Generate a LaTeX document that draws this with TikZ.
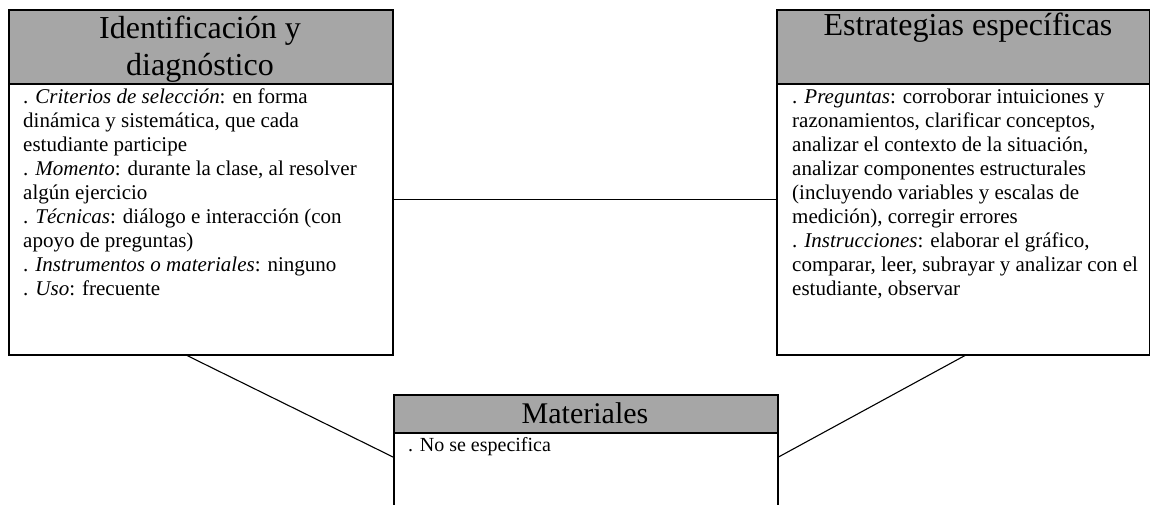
\documentclass[tikz,border=0pt]{standalone}
\usepackage{fontspec}
\setmainfont{Liberation Serif}
\usetikzlibrary{calc}
\definecolor{headgray}{RGB}{166,166,166}
\tikzset{
  headbox/.style={draw=black, line width=1.5pt, fill=headgray, anchor=north west, inner sep=0pt},
  bodybox/.style={draw=black, line width=1.5pt, fill=white, anchor=north west, inner sep=0pt},
  titletext/.style={anchor=base, inner sep=0pt, font=\fontsize{32}{37}\selectfont},
  smalltitle/.style={anchor=base, inner sep=0pt, font=\fontsize{30}{34}\selectfont},
  bodytext/.style={anchor=base west, inner sep=0pt, font=\fontsize{21}{24}\selectfont},
  connector/.style={draw=black, line width=1.1pt}
}
\begin{document}
\begin{tikzpicture}[x=1pt,y=-1pt]
\useasboundingbox (0,0) rectangle (1150,504);
% left box
\node[headbox, minimum width=384pt, minimum height=74pt] (idhead) at (8,9) {};
\node[bodybox, minimum width=384pt, minimum height=271pt] (idbody) at (8,83) {};
% right box
\node[headbox, minimum width=373pt, minimum height=74pt] (eshead) at (776,9) {};
\node[bodybox, minimum width=373pt, minimum height=271pt] (esbody) at (776,83) {};
% bottom box
\node[headbox, minimum width=384pt, minimum height=38pt] (mathead) at (393,394) {};
\node[bodybox, minimum width=384pt, minimum height=90pt] (matbody) at (393,432) {};

% titles
\node[titletext] (idtitle) at (200,38) {\begin{tabular}[t]{@{}c@{}}Identificación y\\diagnóstico\end{tabular}};
\node[titletext] (estitle) at (968,35) {Estrategias específicas};
\node[smalltitle] (mattitle) at (585,423) {Materiales};

% body texts
\node[bodytext] (idtext) at (23,103) {\begin{tabular}[t]{@{}l@{}}
. \textit{Criterios de selección}: en forma\\
dinámica y sistemática, que cada\\
estudiante participe\\
. \textit{Momento}: durante la clase, al resolver\\
algún ejercicio\\
. \textit{Técnicas}: diálogo e interacción (con\\
apoyo de preguntas)\\
. \textit{Instrumentos o materiales}: ninguno\\
. \textit{Uso}: frecuente
\end{tabular}};
\node[bodytext] (estext) at (792,103) {\begin{tabular}[t]{@{}l@{}}
. \textit{Preguntas}: corroborar intuiciones y\\
razonamientos, clarificar conceptos,\\
analizar el contexto de la situación,\\
analizar componentes estructurales\\
(incluyendo variables y escalas de\\
medición), corregir errores\\
. \textit{Instrucciones}: elaborar el gráfico,\\
comparar, leer, subrayar y analizar con el\\
estudiante, observar
\end{tabular}};
\node[bodytext, font=\fontsize{20}{24}\selectfont] (mattext) at (408,451) {. No se especifica};

% connectors
\draw[connector] ([yshift=20pt]idbody.east) -- ([yshift=20pt]esbody.west);
\draw[connector] ([xshift=179pt]idbody.south west) -- ([yshift=-25pt]matbody.north west);
\draw[connector] ([xshift=189pt]esbody.south west) -- ([yshift=-25pt]matbody.north east);
\end{tikzpicture}
\end{document}
